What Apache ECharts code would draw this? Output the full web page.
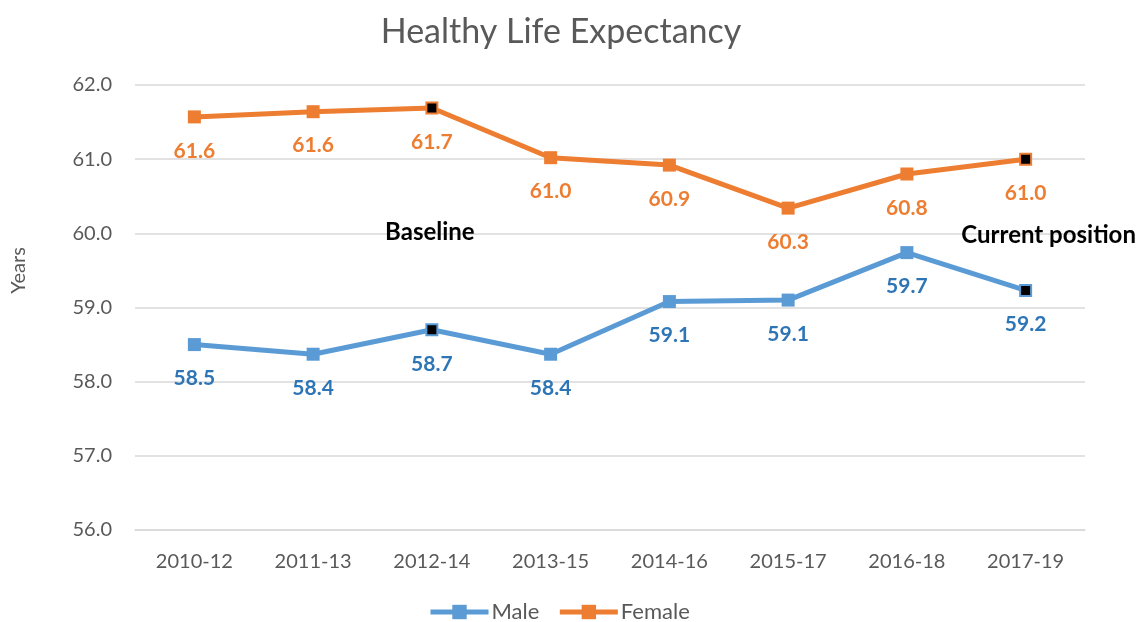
<!DOCTYPE html>
<html>
<head>
<meta charset="utf-8">
<script src="https://cdn.jsdelivr.net/npm/echarts@6/dist/echarts.min.js"></script>
<style>html,body{margin:0;padding:0;background:#fff}#c{width:1142px;height:622px}</style>
</head>
<body>
<div id="c"></div>
<script>
const categories = ['2010-12','2011-13','2012-14','2013-15','2014-16','2015-17','2016-18','2017-19'];
const maleValues = [58.50, 58.37, 58.70, 58.37, 59.08, 59.10, 59.74, 59.23];
const femaleValues = [61.57, 61.64, 61.69, 61.02, 60.92, 60.34, 60.80, 61.00];
const highlightIdx = [2, 7];
const yTicks = {min: 56, max: 62, interval: 1};

const FONT = 'Lato, "Open Sans", sans-serif';
const MALE = '#5B9BD5', FEMALE = '#ED7D31';

function mkData(vals, color) {
  return vals.map((v, i) => highlightIdx.includes(i)
    ? {value: v, symbolSize: 11, itemStyle: {color: '#000', borderColor: color, borderWidth: 2}}
    : {value: v});
}

const chart = echarts.init(document.getElementById('c'));
chart.setOption({
  animation: false,
  title: {text: 'Healthy Life Expectancy', left: 556, top: 10, textAlign: 'center',
    textStyle: {fontFamily: FONT, fontSize: 34, fontWeight: 'normal', color: '#595959'}},
  grid: {left: 135, right: 57, top: 85, bottom: 92},
  legend: {left: 428, top: 601, padding: 0, itemWidth: 58, itemHeight: 18, itemGap: 18,
    lineStyle: {width: 5},
    textStyle: {fontFamily: FONT, fontSize: 22, color: '#595959', padding: [0, 0, 0, -2]},
    data: ['Male', 'Female']},
  xAxis: {type: 'category', data: categories, boundaryGap: true,
    axisLine: {show: true, lineStyle: {color: '#d9d9d9', width: 1.5}},
    axisTick: {show: false},
    axisLabel: {fontFamily: FONT, fontSize: 20, color: '#595959', margin: 22}},
  yAxis: {type: 'value', min: yTicks.min, max: yTicks.max, interval: yTicks.interval,
    name: 'Years', nameLocation: 'middle', nameGap: 106, nameRotate: 90,
    nameTextStyle: {fontFamily: FONT, fontSize: 20, color: '#595959', padding: [0, 0, 0, 74]},
    axisLine: {show: false}, axisTick: {show: false},
    axisLabel: {fontFamily: FONT, fontSize: 20, color: '#595959', margin: 23,
      formatter: v => v.toFixed(1)},
    splitLine: {lineStyle: {color: '#d9d9d9', width: 1.5}}},
  series: [
    {name: 'Male', type: 'line', data: mkData(maleValues, MALE),
      color: MALE, symbol: 'rect', symbolSize: 13,
      lineStyle: {width: 5, color: MALE}, itemStyle: {color: MALE},
      label: {show: true, position: 'bottom', distance: 17, fontFamily: FONT, fontSize: 21,
        fontWeight: 'bold', color: '#2E75B6', formatter: p => p.value.toFixed(1)},
      markPoint: {symbol: 'rect', symbolSize: 0, silent: true,
        label: {show: true, fontFamily: FONT, fontSize: 24, fontWeight: 'bold', color: '#000',
          formatter: p => p.name},
        data: [{name: 'Current position', coord: ['2017-19', 59.97], label: {offset: [23, 0]}}]}},
    {name: 'Female', type: 'line', data: mkData(femaleValues, FEMALE),
      color: FEMALE, symbol: 'rect', symbolSize: 13,
      lineStyle: {width: 5, color: FEMALE}, itemStyle: {color: FEMALE},
      label: {show: true, position: 'bottom', distance: 17, fontFamily: FONT, fontSize: 21,
        fontWeight: 'bold', color: '#ED7D31', formatter: p => p.value.toFixed(1)},
      markPoint: {symbol: 'rect', symbolSize: 0, silent: true,
        label: {show: true, fontFamily: FONT, fontSize: 24, fontWeight: 'bold', color: '#000',
          formatter: p => p.name},
        data: [{name: 'Baseline', coord: ['2012-14', 60.02], label: {offset: [-2, 0]}}]}}
  ]
});
</script>
</body>
</html>
